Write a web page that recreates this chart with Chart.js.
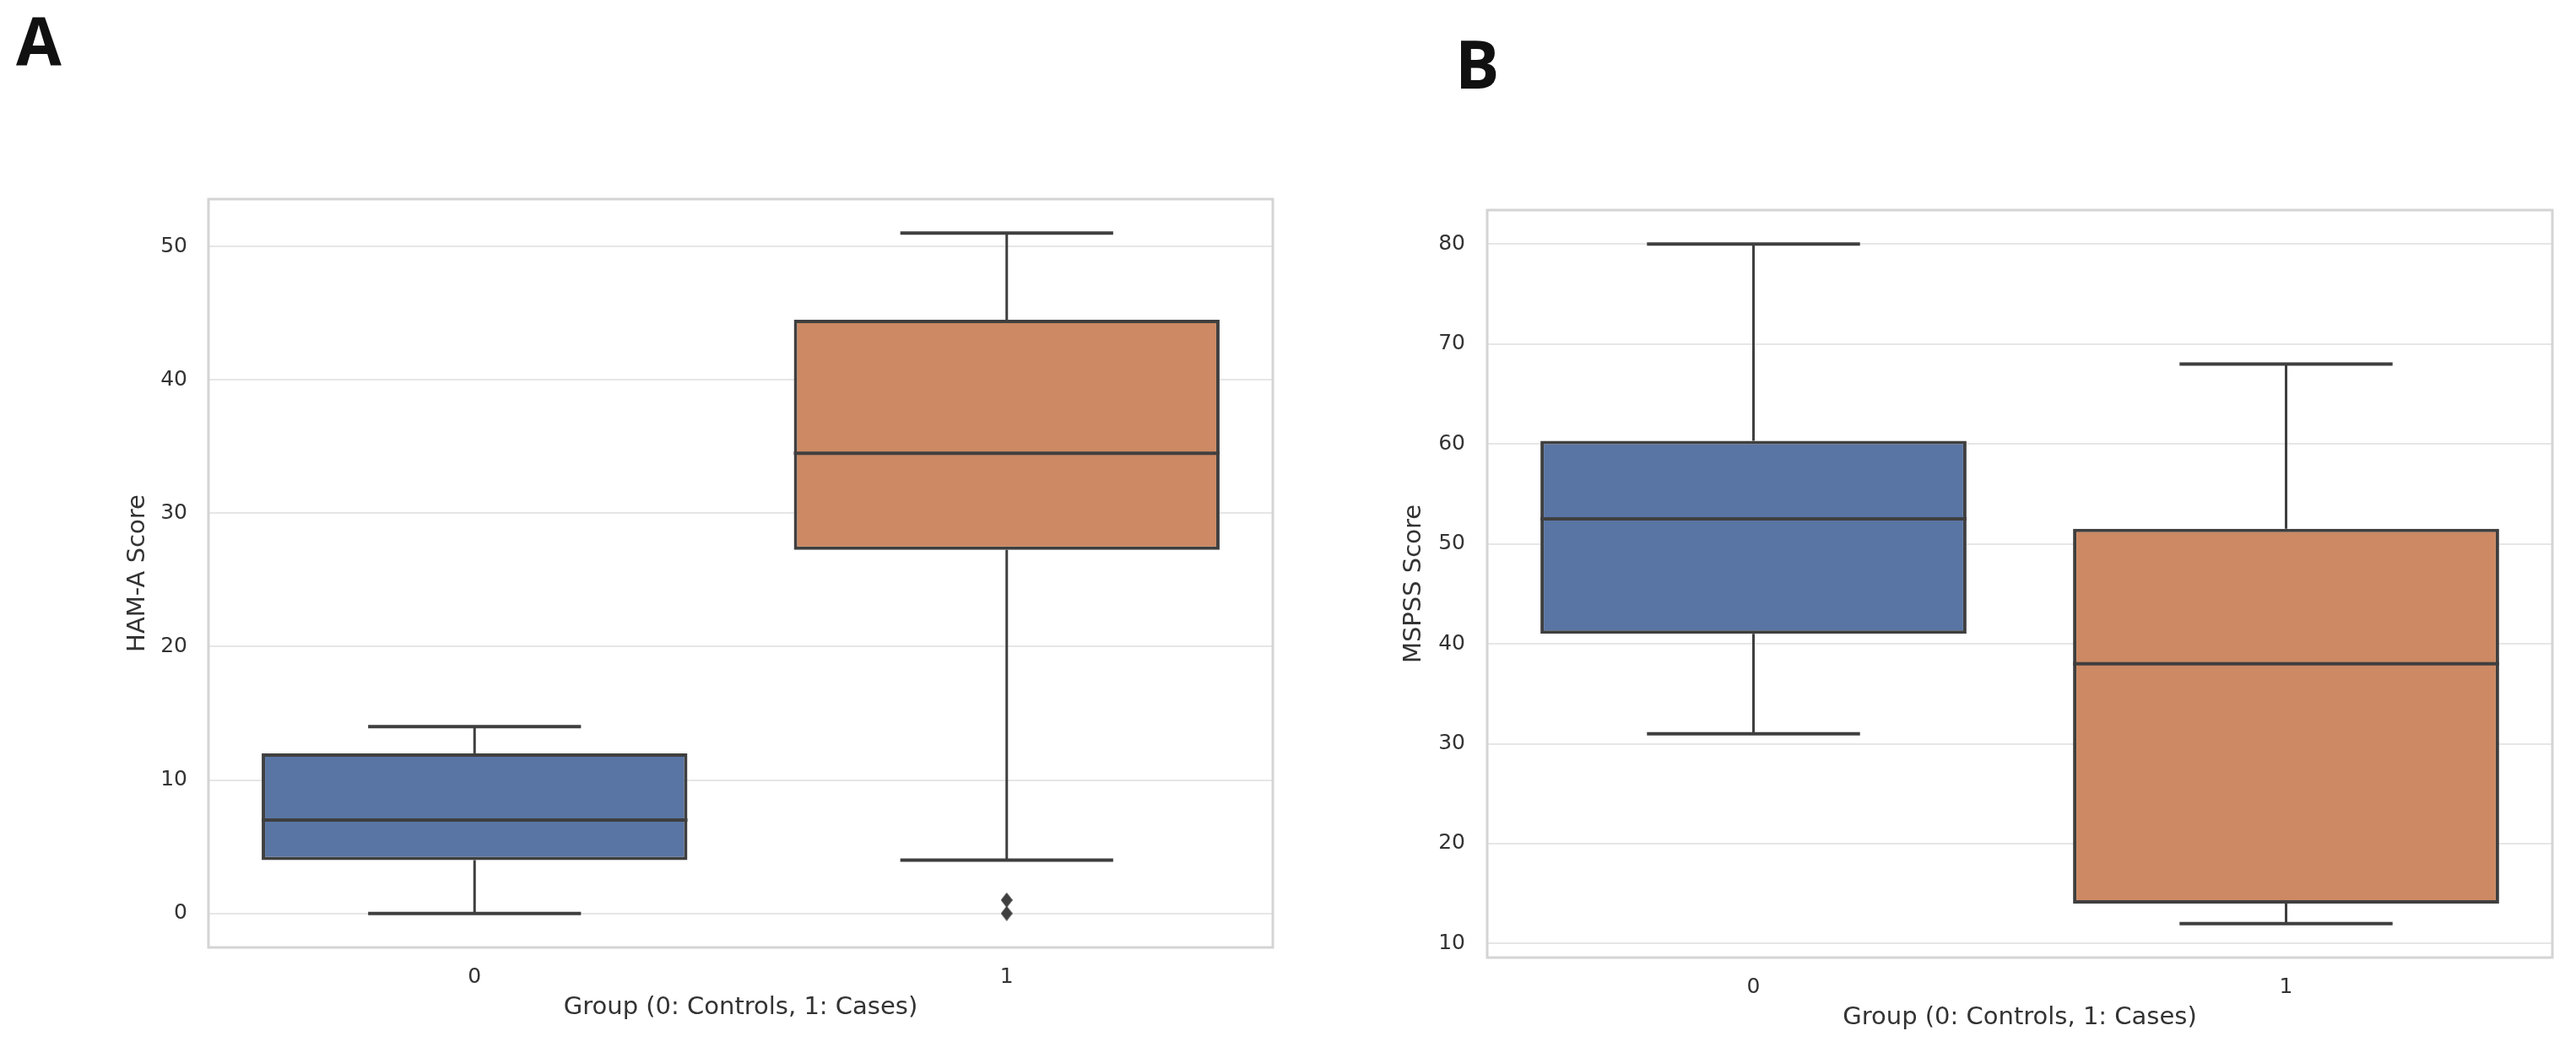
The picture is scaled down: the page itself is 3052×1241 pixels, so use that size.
<!DOCTYPE html>
<html>
<head>
<meta charset="utf-8">
<script src="https://cdn.jsdelivr.net/npm/chart.js@4.4.1/dist/chart.umd.min.js"></script>
<style>
  html, body { margin: 0; padding: 0; background: #fff; }
  body { width: 3052px; height: 1241px; position: relative; overflow: hidden; }
  canvas { position: absolute; top: 0; }
  #chartA { left: 0; }
  #chartB { left: 1530px; }
  .panel-label {
    position: absolute;
    font-family: 'Liberation Sans Narrow', 'Open Sans', sans-serif;
    font-weight: bold;
    font-size: 78px;
    line-height: 78px;
    color: #111;
  }
</style>
</head>
<body>
<div class="panel-label" style="left:19px; top:8px;">A</div>
<div class="panel-label" style="left:1724px; top:36px;">B</div>
<canvas id="chartA" width="1530" height="1241"></canvas>
<canvas id="chartB" width="1522" height="1241"></canvas>
<script>
const groups = ['0', '1'];
const xTitle = 'Group (0: Controls, 1: Cases)';
const boxColors = ['#5975a4', '#cc8963'];

// Panel A - HAM-A score
const hamaWhiskerLow = [0, 4];
const hamaQ1 = [4, 27.25];
const hamaMedian = [7, 34.5];
const hamaQ3 = [12, 44.5];
const hamaWhiskerHigh = [14, 51];
const hamaOutliers = [{ x: '1', y: 0 }, { x: '1', y: 1 }];
const hamaTicks = [0, 10, 20, 30, 40, 50];

// Panel B - MSPSS score
const mspssWhiskerLow = [31, 12];
const mspssQ1 = [41, 14];
const mspssMedian = [52.5, 38];
const mspssQ3 = [60.3, 51.5];
const mspssWhiskerHigh = [80, 68];
const mspssOutliers = [];
const mspssTicks = [10, 20, 30, 40, 50, 60, 70, 80];

const lineColor = '#3f3f3f';
const textColor = '#333333';
const tickFont = { family: 'DejaVu Sans', size: 25 };
const titleFont = { family: 'DejaVu Sans', size: 29 };

// thin diamond marker like seaborn's 'd'
function makeDiamond() {
  const c = document.createElement('canvas');
  c.width = 14;
  c.height = 18;
  const g = c.getContext('2d');
  g.fillStyle = lineColor;
  g.beginPath();
  g.moveTo(7, 0);
  g.lineTo(14, 9);
  g.lineTo(7, 18);
  g.lineTo(0, 9);
  g.closePath();
  g.fill();
  return c;
}
const diamond = makeDiamond();

/**
 * Whiskers, caps, medians and frame drawn from the scales
 */
const boxLines = {
  id: 'boxLines',
  beforeDatasetsDraw(chart, args, opts) {
    const ctx = chart.ctx;
    const x = chart.scales.x;
    const y = chart.scales.y;
    const meta = chart.getDatasetMeta(0);
    const area = chart.chartArea;

    // frame (all four spines)
    ctx.save();
    ctx.strokeStyle = '#d4d4d4';
    ctx.lineWidth = 3;
    ctx.strokeRect(area.left, area.top, area.right - area.left, area.bottom - area.top);
    ctx.restore();

    ctx.save();
    ctx.strokeStyle = lineColor;
    ctx.lineCap = 'butt';
    opts.q1.forEach(function(q1, i) {
      const px = x.getPixelForValue(i);
      const half = meta.data[i].width / 4;
      ctx.lineWidth = 3;
      ctx.beginPath();
      ctx.moveTo(px, y.getPixelForValue(opts.low[i]));
      ctx.lineTo(px, y.getPixelForValue(q1));
      ctx.moveTo(px, y.getPixelForValue(opts.q3[i]));
      ctx.lineTo(px, y.getPixelForValue(opts.high[i]));
      ctx.stroke();

      ctx.lineWidth = 4;
      ctx.beginPath();
      [opts.low[i], opts.high[i]].forEach(function(v) {
        const py = y.getPixelForValue(v);
        ctx.moveTo(px - half, py);
        ctx.lineTo(px + half, py);
      });
      ctx.stroke();
    });
    ctx.restore();
  },
  afterDatasetsDraw(chart, args, opts) {
    const ctx = chart.ctx;
    const x = chart.scales.x;
    const y = chart.scales.y;
    const meta = chart.getDatasetMeta(0);
    ctx.save();
    ctx.strokeStyle = lineColor;
    ctx.lineWidth = 4;
    opts.median.forEach(function(m, i) {
      const px = x.getPixelForValue(i);
      const half = meta.data[i].width / 2;
      const py = y.getPixelForValue(m);
      ctx.beginPath();
      ctx.moveTo(px - half, py);
      ctx.lineTo(px + half, py);
      ctx.stroke();
    });
    ctx.restore();
  }
};

function renderBoxChart(canvasId, cfg) {
  const canvas = document.getElementById(canvasId);
  const ctx = canvas.getContext('2d');

  const all = cfg.low.concat(cfg.high, cfg.outliers.map(function(o) { return o.y; }));
  const lo = Math.min.apply(null, all);
  const hi = Math.max.apply(null, all);
  const margin = (hi - lo) * 0.05;

  return new Chart(ctx, {
    type: 'bar',
    data: {
      labels: groups,
      datasets: [{
        data: cfg.q1.map(function(v, i) { return [v, cfg.q3[i]]; }),
        backgroundColor: boxColors,
        borderColor: lineColor,
        borderWidth: 4,
        borderSkipped: false,
        categoryPercentage: 1,
        barPercentage: 0.8
      }, {
        type: 'line',
        data: cfg.outliers,
        showLine: false,
        pointStyle: diamond,
        pointRadius: 8
      }]
    },
    options: {
      responsive: false,
      devicePixelRatio: 1,
      animation: false,
      layout: {
        padding: { top: cfg.padTop, right: cfg.padRight, left: 0, bottom: 0 }
      },
      plugins: {
        legend: { display: false },
        tooltip: { enabled: false },
        boxLines: {
          low: cfg.low,
          q1: cfg.q1,
          median: cfg.median,
          q3: cfg.q3,
          high: cfg.high
        }
      },
      scales: {
        x: {
          grid: { display: false, drawTicks: false },
          border: { display: false },
          ticks: { color: textColor, font: tickFont, padding: 20 },
          title: {
            display: true,
            text: xTitle,
            color: textColor,
            font: titleFont,
            padding: { top: 0, bottom: cfg.xTitlePad }
          },
          afterFit: function(scale) { scale.height = cfg.xAxisHeight; }
        },
        y: {
          min: lo - margin,
          max: hi + margin,
          grid: { color: '#e6e6e6', lineWidth: 2, drawTicks: false },
          border: { display: false },
          ticks: { color: textColor, font: tickFont, padding: cfg.tickPad },
          afterBuildTicks: function(scale) {
            scale.ticks = cfg.ticks.map(function(v) { return { value: v }; });
          },
          title: {
            display: true,
            text: cfg.yTitle,
            color: textColor,
            font: titleFont,
            padding: { top: cfg.yTitlePad, bottom: 0 }
          },
          afterFit: function(scale) { scale.width = cfg.yAxisWidth; }
        }
      }
    },
    plugins: [boxLines]
  });
}

renderBoxChart('chartA', {
  low: hamaWhiskerLow, q1: hamaQ1, median: hamaMedian, q3: hamaQ3, high: hamaWhiskerHigh,
  outliers: hamaOutliers, ticks: hamaTicks, yTitle: 'HAM-A Score',
  padTop: 236, padRight: 22, yAxisWidth: 247, xAxisHeight: 118,
  tickPad: 25, yTitlePad: 146, xTitlePad: 29
});

renderBoxChart('chartB', {
  low: mspssWhiskerLow, q1: mspssQ1, median: mspssMedian, q3: mspssQ3, high: mspssWhiskerHigh,
  outliers: mspssOutliers, ticks: mspssTicks, yTitle: 'MSPSS Score',
  padTop: 249, padRight: 28, yAxisWidth: 232, xAxisHeight: 106,
  tickPad: 26, yTitlePad: 128, xTitlePad: 17
});
</script>
</body>
</html>
